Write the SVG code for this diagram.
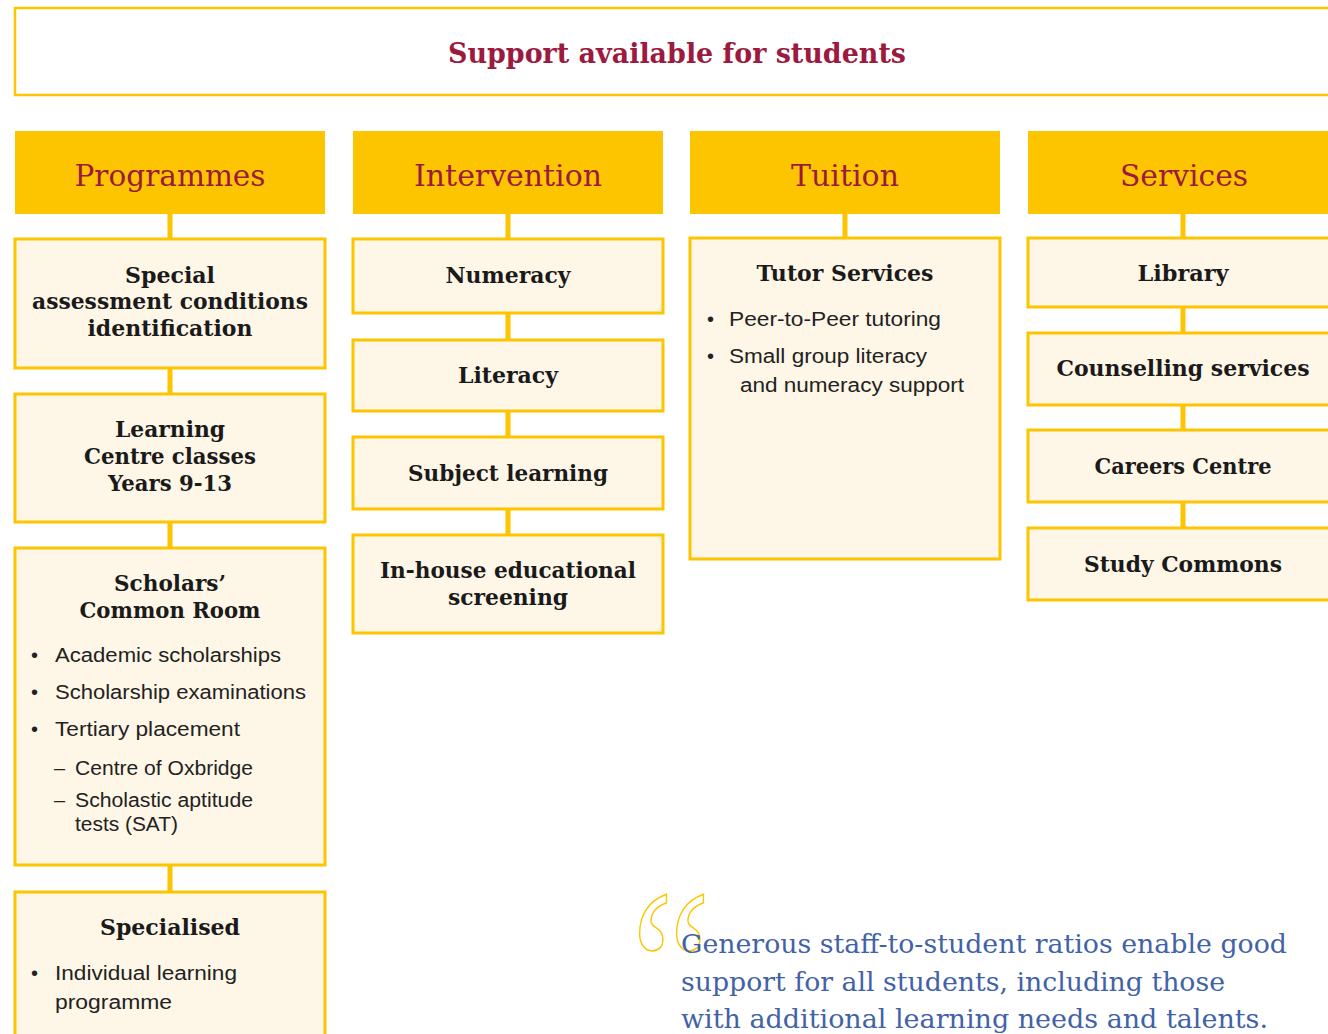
<svg xmlns="http://www.w3.org/2000/svg" width="1328" height="1034" viewBox="0 0 1328 1034">
<style>
.box{fill:#FEF6E6;stroke:#FDC400;stroke-width:3}
.hdr{fill:#FDC400}
.conn{stroke:#FDC400;stroke-width:5;fill:none}
.title{font-family:"DejaVu Serif",serif;font-weight:bold;font-size:27px;fill:#9C1A3F;text-anchor:middle}
.htxt{font-family:"DejaVu Serif",serif;font-size:30px;fill:#9C1A3F;text-anchor:middle}
.lbl{font-family:"DejaVu Serif",serif;font-weight:bold;font-size:22px;fill:#1a1a1a;text-anchor:middle}
.body{font-family:"Liberation Sans",Arial,sans-serif;font-size:20px;fill:#222}
.quote{font-family:"DejaVu Serif",serif;font-size:26px;fill:#4262A8}
</style>
<rect x="0" y="0" width="1328" height="1034" fill="#ffffff"/>
<g id="title">
<rect x="15" y="8" width="1330" height="87" fill="#ffffff" stroke="#FDC400" stroke-width="2.5"/>
<text class="title" x="677" y="63" textLength="458" lengthAdjust="spacingAndGlyphs">Support available for students</text>
</g>
<g id="connectors">
<line class="conn" x1="170" y1="214" x2="170" y2="892"/>
<line class="conn" x1="508" y1="214" x2="508" y2="535"/>
<line class="conn" x1="845" y1="214" x2="845" y2="238"/>
<line class="conn" x1="1183" y1="214" x2="1183" y2="528"/>
</g>
<g id="hdr-programmes"><rect class="hdr" x="15" y="131" width="310" height="83"/><text class="htxt" x="170" y="186" textLength="191" lengthAdjust="spacingAndGlyphs">Programmes</text></g>
<g id="hdr-intervention"><rect class="hdr" x="353" y="131" width="310" height="83"/><text class="htxt" x="508" y="186" textLength="188" lengthAdjust="spacingAndGlyphs">Intervention</text></g>
<g id="hdr-tuition"><rect class="hdr" x="690" y="131" width="310" height="83"/><text class="htxt" x="845" y="186" textLength="108" lengthAdjust="spacingAndGlyphs">Tuition</text></g>
<g id="hdr-services"><rect class="hdr" x="1028" y="131" width="320" height="83"/><text class="htxt" x="1184" y="186" textLength="128" lengthAdjust="spacingAndGlyphs">Services</text></g>

<g id="special">
<rect class="box" x="15" y="239" width="310" height="129"/>
<text class="lbl" x="170" y="283" textLength="90" lengthAdjust="spacingAndGlyphs">Special</text>
<text class="lbl" x="170" y="309" textLength="276" lengthAdjust="spacingAndGlyphs">assessment conditions</text>
<text class="lbl" x="170" y="336" textLength="165" lengthAdjust="spacingAndGlyphs">identification</text>
</g>
<g id="learning-centre">
<rect class="box" x="15" y="394" width="310" height="128"/>
<text class="lbl" x="170" y="437" textLength="110" lengthAdjust="spacingAndGlyphs">Learning</text>
<text class="lbl" x="170" y="464" textLength="172" lengthAdjust="spacingAndGlyphs">Centre classes</text>
<text class="lbl" x="170" y="491" textLength="124" lengthAdjust="spacingAndGlyphs">Years 9-13</text>
</g>
<g id="scholars">
<rect class="box" x="15" y="548" width="310" height="317"/>
<text class="lbl" x="170" y="591" textLength="112" lengthAdjust="spacingAndGlyphs">Scholars’</text>
<text class="lbl" x="170" y="618" textLength="181" lengthAdjust="spacingAndGlyphs">Common Room</text>
<text class="body" x="31" y="662">•</text><text class="body" x="55" y="662" textLength="226" lengthAdjust="spacingAndGlyphs">Academic scholarships</text>
<text class="body" x="31" y="699">•</text><text class="body" x="55" y="699" textLength="251" lengthAdjust="spacingAndGlyphs">Scholarship examinations</text>
<text class="body" x="31" y="736">•</text><text class="body" x="55" y="736" textLength="185" lengthAdjust="spacingAndGlyphs">Tertiary placement</text>
<text class="body" x="54" y="775">–</text><text class="body" x="75" y="775" textLength="178" lengthAdjust="spacingAndGlyphs">Centre of Oxbridge</text>
<text class="body" x="54" y="807">–</text><text class="body" x="75" y="807" textLength="178" lengthAdjust="spacingAndGlyphs">Scholastic aptitude</text>
<text class="body" x="75" y="831" textLength="103" lengthAdjust="spacingAndGlyphs">tests (SAT)</text>
</g>
<g id="specialised">
<rect class="box" x="15" y="892" width="310" height="160"/>
<text class="lbl" x="170" y="935" textLength="140" lengthAdjust="spacingAndGlyphs">Specialised</text>
<text class="body" x="31" y="980">•</text><text class="body" x="55" y="980" textLength="182" lengthAdjust="spacingAndGlyphs">Individual learning</text>
<text class="body" x="55" y="1009" textLength="117" lengthAdjust="spacingAndGlyphs">programme</text>
</g>

<g id="numeracy"><rect class="box" x="353" y="239" width="310" height="74"/><text class="lbl" x="508" y="283" textLength="125" lengthAdjust="spacingAndGlyphs">Numeracy</text></g>
<g id="literacy"><rect class="box" x="353" y="340" width="310" height="71"/><text class="lbl" x="508" y="383" textLength="100" lengthAdjust="spacingAndGlyphs">Literacy</text></g>
<g id="subject-learning"><rect class="box" x="353" y="437" width="310" height="72"/><text class="lbl" x="508" y="481" textLength="200" lengthAdjust="spacingAndGlyphs">Subject learning</text></g>
<g id="in-house"><rect class="box" x="353" y="535" width="310" height="98"/>
<text class="lbl" x="508" y="578" textLength="256" lengthAdjust="spacingAndGlyphs">In-house educational</text>
<text class="lbl" x="508" y="605" textLength="120" lengthAdjust="spacingAndGlyphs">screening</text></g>

<g id="tutor-services"><rect class="box" x="690" y="238" width="310" height="321"/>
<text class="lbl" x="845" y="281" textLength="177" lengthAdjust="spacingAndGlyphs">Tutor Services</text>
<text class="body" x="707" y="326">•</text><text class="body" x="729" y="326" textLength="212" lengthAdjust="spacingAndGlyphs">Peer-to-Peer tutoring</text>
<text class="body" x="707" y="363">•</text><text class="body" x="729" y="363" textLength="198" lengthAdjust="spacingAndGlyphs">Small group literacy</text>
<text class="body" x="740" y="392" textLength="224" lengthAdjust="spacingAndGlyphs">and numeracy support</text></g>

<g id="library"><rect class="box" x="1028" y="238" width="320" height="69"/><text class="lbl" x="1183" y="281" textLength="91" lengthAdjust="spacingAndGlyphs">Library</text></g>
<g id="counselling"><rect class="box" x="1028" y="333" width="320" height="72"/><text class="lbl" x="1183" y="376" textLength="253" lengthAdjust="spacingAndGlyphs">Counselling services</text></g>
<g id="careers"><rect class="box" x="1028" y="430" width="320" height="72"/><text class="lbl" x="1183" y="474" textLength="177" lengthAdjust="spacingAndGlyphs">Careers Centre</text></g>
<g id="study-commons"><rect class="box" x="1028" y="528" width="320" height="72"/><text class="lbl" x="1183" y="572" textLength="198" lengthAdjust="spacingAndGlyphs">Study Commons</text></g>

<g id="quote">
<text transform="translate(631,1041) scale(0.82,1)" x="0" y="0" font-family="Liberation Serif,serif" font-size="220" fill="none" stroke="#FDC400" stroke-width="1.6">“</text>
<text class="quote" x="681" y="953" textLength="606" lengthAdjust="spacingAndGlyphs">Generous staff-to-student ratios enable good</text>
<text class="quote" x="681" y="991" textLength="544" lengthAdjust="spacingAndGlyphs">support for all students, including those</text>
<text class="quote" x="681" y="1028" textLength="587" lengthAdjust="spacingAndGlyphs">with additional learning needs and talents.</text>
</g>
</svg>
